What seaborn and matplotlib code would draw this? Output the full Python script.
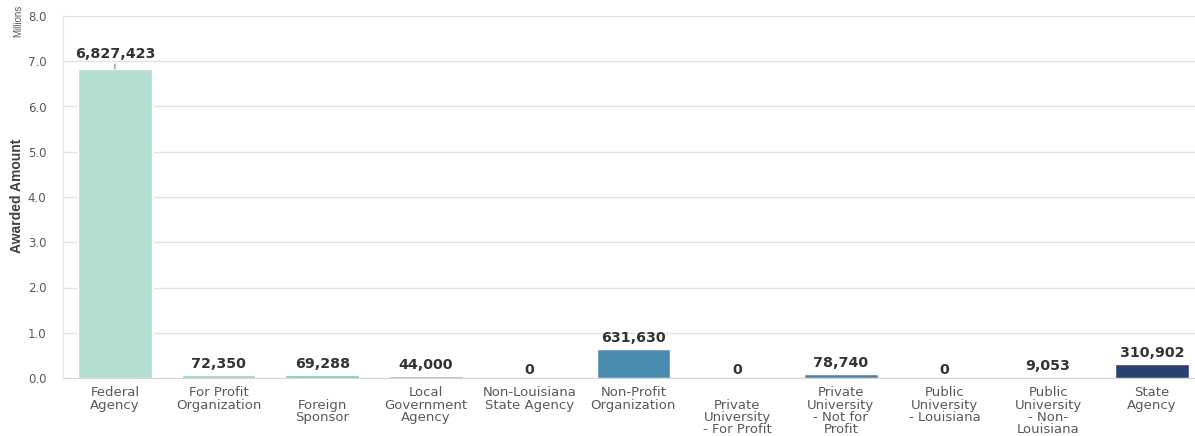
import matplotlib
matplotlib.use("Agg")
import matplotlib.pyplot as plt
import seaborn as sns
import pandas as pd

categories = [
    "Federal\nAgency",
    "For Profit\nOrganization",
    "\nForeign\nSponsor",
    "Local\nGovernment\nAgency",
    "Non-Louisiana\nState Agency",
    "Non-Profit\nOrganization",
    "\nPrivate\nUniversity\n- For Profit",
    "Private\nUniversity\n- Not for\nProfit",
    "Public\nUniversity\n- Louisiana",
    "Public\nUniversity\n- Non-\nLouisiana",
    "State\nAgency",
]
values = [6827423, 72350, 69288, 44000, 0, 631630, 0, 78740, 0, 9053, 310902]
colors = ["#b2ddd0", "#98d2c8", "#7dc3c0", "#5fb1bd", "#53a0b8", "#4a8db0",
          "#4a86ad", "#4a80aa", "#3f6d99", "#335a85", "#26426e"]
y_ticks = [0, 1, 2, 3, 4, 5, 6, 7, 8]

sns.set_style("white")
plt.rcParams["font.family"] = ["DejaVu Sans"]

df = pd.DataFrame({"cat": categories, "val": [v / 1e6 for v in values]})

fig = plt.figure(figsize=(11.95, 4.36), dpi=100)
W, H = 1195, 436
left_px, right_px, top_px, bot_px = 63, 1195, 16, 378
ax = fig.add_axes([left_px / W, (H - bot_px) / H, (right_px - left_px) / W, (bot_px - top_px) / H])

sns.barplot(data=df, x="cat", y="val", hue="cat", palette=colors, legend=False,
            width=0.71, saturation=1, ax=ax, zorder=3)

slot = 103.7
ax.set_xlim(-0.5, -0.5 + (right_px - left_px) / slot)
ax.set_ylim(0, 8)
ax.set_yticks(y_ticks)
ax.set_yticklabels([f"{t:.1f}" for t in y_ticks], color="#595959", fontsize=8.5)
ax.tick_params(axis="y", length=0, pad=12)
ax.tick_params(axis="x", length=0, pad=6)
for lbl in ax.get_xticklabels():
    lbl.set_fontsize(9.5)
    lbl.set_color("#595959")
    lbl.set_linespacing(0.93)
    lbl.set_verticalalignment("top")

ax.grid(axis="y", color="#e3e3e3", linewidth=1, zorder=0)
for s in ["top", "right"]:
    ax.spines[s].set_visible(False)
ax.spines["left"].set_color("#e3e3e3")
ax.spines["bottom"].set_color("#d6d6d6")
ax.spines["bottom"].set_zorder(4)
ax.set_xlabel("")
ax.set_ylabel("")

fig.text(17 / W, 1 - 196 / H, "Awarded Amount", rotation=90, fontsize=10,
         fontweight="bold", color="#404040", ha="center", va="center",
         fontfamily="Liberation Sans")
fig.text(18 / W, 1 - 21 / H, "Millions", rotation=90, fontsize=7, color="#595959",
         ha="center", va="center", fontfamily="Liberation Sans")

for i, v in enumerate(values):
    y = v / 1e6
    txt = f"{v:,}"
    if i == 0:
        ax.annotate(txt, xy=(i, y), xytext=(0, 6), textcoords="offset points",
                    ha="center", va="bottom", fontsize=10.3, fontweight="bold", color="#333333",
                    arrowprops=dict(arrowstyle="-", color="#808080", lw=0.8,
                                    shrinkA=0, shrinkB=0))
    else:
        off = 3 if v > 0 else 1
        ax.annotate(txt, xy=(i, y), xytext=(0, off), textcoords="offset points",
                    ha="center", va="bottom", fontsize=10.3, fontweight="bold", color="#333333")

fig.savefig("out.png", dpi=100)
